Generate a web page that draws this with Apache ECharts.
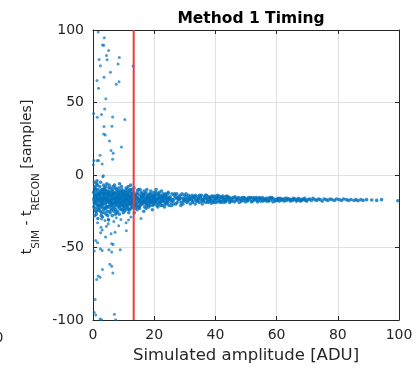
<!DOCTYPE html>
<html>
<head>
<meta charset="utf-8">
<script src="https://cdn.jsdelivr.net/npm/echarts@6/dist/echarts.min.js"></script>
<style>html,body{margin:0;padding:0;background:#fff}#c{width:416px;height:369px}</style>
</head>
<body>
<div id="c"></div>
<script>
const chartTitle = 'Method 1 Timing';
const xLabel = 'Simulated amplitude [ADU]';
const xTicks = [0, 20, 40, 60, 80, 100];
const yTicks = [-100, -50, 0, 50, 100];
const threshold = 13.3;

// sparse outliers (amplitude, time difference)
const outlierPoints = [
 [1.7,98.6],[3.7,94.7],[3.1,89.7],[3.5,89.4],[5.1,85.8],[2.0,79.7],[4.4,82.4],[4.6,79.4],[8.6,81],[2.4,75.3],
 [8.2,76.5],[13.1,75.1],[5.7,70.8],[3.6,67.4],[1.3,65.1],[8.5,64.3],[7.6,62.6],[1.8,59.9],[4.2,52.6],[0.2,42.4],
 [1.4,39.8],[2.8,41.8],[3.8,45.6],[6.4,40],[10.4,38.3],[3.6,33.5],[6.2,33.7],[3.5,28.2],[4.0,27.6],[5.4,23.4],
 [5.9,16.9],[6.6,15],[9.3,19.3],[6.4,10.9],[2.3,13.7],[0.3,10],[1.4,10],[1.8,10],[3.0,7.6],[0.1,7],
 [3.2,-1.2],[3.4,-0.5],
 [2.8,-30.3],[3.9,-31.4],[5.0,-30.3],[5.0,-33.7],[9.1,-30.7],[4.4,-35.3],[2.5,-39.9],[4.1,-42.8],[5.9,-40.6],[7.2,-39.4],
 [10.9,-38.5],[0.9,-45.1],[1.5,-46.8],[6.1,-47.4],[6.6,-47.9],[0.4,-52.4],[3.0,-52],[5.2,-51.5],[6.1,-53.1],[8.9,-51.5],
 [2.4,-50.8],[5.5,-61.6],[6.1,-63],[6.5,-67.5],[3.1,-65.2],[1.7,-69.6],[2.3,-70.5],[1.2,-72.1],[0.7,-85.8],[0.4,-94.9],
 [0.9,-96.6],[7.0,-96.1],[2.3,-99.3],[2.8,-99.9],[7.4,-99.9],[3.0,-38],[1.5,-33],[2.6,-36],[6.8,-32],[8.4,-35],
 [10.8,-33],[12.4,-29],[15.7,-30],[7.6,-29.5],[11.6,-31]
];

// dense cloud at low amplitude (x < 25)
const clusterPoints = [
 [0.2,-12],[0.4,-16],[0.5,-20],[0.6,-8],[0.7,-14],[0.8,-25],[0.9,-18],[0.3,-22],[0.5,-5],[0.8,-11],[0.6,-28],[0.9,-15],[0.4,-19],[0.7,-9],
 [1.1,-13],[1.3,-17],[1.5,-21],[1.2,-6],[1.6,-10],[1.8,-24],[1.4,-15],[1.9,-19],[1.1,-27],[1.7,-12],[1.3,-4],[1.5,-23],[1.8,-16],[1.2,-20],[1.6,-30],
 [2.1,-14],[2.3,-18],[2.5,-11],[2.7,-22],[2.9,-16],[2.2,-8],[2.4,-25],[2.6,-13],[2.8,-19],[2.0,-21],[2.5,-5],[2.7,-28],[2.3,-15],[2.9,-10],[2.1,-17],
 [3.1,-12],[3.3,-20],[3.5,-16],[3.7,-9],[3.9,-23],[3.2,-18],[3.4,-14],[3.6,-26],[3.8,-11],[3.0,-15],[3.5,-7],[3.7,-19],[3.3,-22],[3.9,-17],[3.1,-29],[3.6,-13],
 [4.1,-15],[4.3,-11],[4.5,-19],[4.7,-22],[4.9,-14],[4.2,-8],[4.4,-17],[4.6,-25],[4.8,-12],[4.0,-20],[4.5,-6],[4.3,-27],[4.7,-16],[4.9,-18],[4.1,-13],
 [5.1,-16],[5.3,-12],[5.5,-20],[5.7,-9],[5.9,-23],[5.2,-18],[5.4,-14],[5.6,-26],[5.8,-15],[5.0,-11],[5.5,-19],[5.3,-7],[5.7,-21],[5.9,-17],[5.1,-31],
 [6.1,-14],[6.3,-18],[6.5,-10],[6.7,-22],[6.9,-16],[6.2,-12],[6.4,-20],[6.6,-8],[6.8,-25],[6.0,-17],[6.5,-15],[6.3,-28],[6.7,-13],[6.9,-19],[6.1,-21],
 [7.1,-13],[7.3,-17],[7.5,-21],[7.7,-10],[7.9,-15],[7.2,-19],[7.4,-24],[7.6,-12],[7.8,-18],[7.0,-7],[7.5,-16],[7.3,-27],[7.7,-14],[7.9,-20],
 [8.1,-15],[8.3,-11],[8.5,-19],[8.7,-23],[8.9,-13],[8.2,-17],[8.4,-9],[8.6,-21],[8.8,-16],[8.0,-25],[8.5,-14],[8.3,-18],[8.7,-6],[8.9,-20],
 [9.1,-16],[9.3,-12],[9.5,-20],[9.7,-14],[9.9,-22],[9.2,-18],[9.4,-10],[9.6,-24],[9.8,-15],[9.0,-19],[9.5,-17],[9.3,-8],[9.7,-13],[9.9,-26],
 [10.1,-14],[10.3,-18],[10.5,-11],[10.7,-21],[10.9,-16],[10.2,-23],[10.4,-13],[10.6,-19],[10.8,-9],[10.0,-17],[10.5,-15],[10.3,-25],[10.7,-12],[10.9,-20],
 [11.1,-17],[11.3,-13],[11.5,-21],[11.7,-15],[11.9,-19],[11.2,-10],[11.4,-23],[11.6,-12],[11.8,-18],[11.0,-16],[11.5,-8],[11.3,-20],[11.7,-26],[11.9,-14],
 [12.1,-15],[12.3,-19],[12.5,-12],[12.7,-22],[12.9,-17],[12.2,-10],[12.4,-20],[12.6,-14],[12.8,-18],[12.0,-24],[12.5,-16],[12.3,-7],[12.7,-13],[12.9,-21],
 [13.1,-16],[13.3,-12],[13.5,-20],[13.7,-14],[13.9,-23],[13.2,-18],[13.4,-9],[13.6,-17],[13.8,-21],[13.0,-13],[13.5,-26],
 [14.1,-15],[14.3,-19],[14.5,-11],[14.7,-22],[14.9,-17],[14.2,-13],[14.4,-24],[14.6,-16],[14.8,-10],[14.0,-20],
 [15.1,-18],[15.3,-14],[15.5,-21],[15.7,-12],[15.9,-16],[15.2,-23],[15.4,-10],[15.6,-19],[15.8,-15],[15.0,-17],
 [16.1,-13],[16.3,-20],[16.5,-16],[16.7,-11],[16.9,-22],[16.2,-18],[16.4,-14],[16.6,-25],[16.8,-17],[16.0,-15],
 [17.1,-19],[17.3,-12],[17.5,-16],[17.7,-21],[17.9,-14],[17.2,-17],[17.4,-23],[17.6,-10],[17.8,-18],[17.0,-15],
 [18.1,-16],[18.3,-20],[18.5,-13],[18.7,-18],[18.9,-11],[18.2,-22],[18.4,-15],[18.6,-17],[18.8,-19],[18.0,-14],
 [19.1,-18],[19.3,-14],[19.5,-21],[19.7,-16],[19.9,-12],[19.2,-19],[19.4,-24],[19.6,-15],[19.8,-17],[19.0,-13],
 [20.1,-15],[20.3,-19],[20.5,-12],[20.7,-17],[20.9,-21],[20.2,-14],[20.4,-18],[20.6,-10],[20.8,-16],[20.0,-20],
 [21.1,-17],[21.3,-13],[21.5,-20],[21.7,-15],[21.9,-18],[21.2,-22],[21.4,-16],[21.6,-12],[21.8,-19],
 [22.1,-14],[22.3,-18],[22.5,-16],[22.7,-21],[22.9,-13],[22.2,-19],[22.4,-11],[22.6,-17],[22.8,-15],
 [23.1,-18],[23.3,-15],[23.5,-20],[23.7,-13],[23.9,-17],[23.2,-16],[23.4,-22],[23.6,-14],[23.8,-19],
 [24.1,-16],[24.3,-19],[24.5,-13],[24.7,-17],[24.9,-21],[24.2,-15],[24.4,-18],[24.6,-12],[24.8,-16],
 [0.5,-14.5],[1.0,-18.5],[1.5,-16.5],[2.0,-13.5],[2.5,-20.5],[3.0,-17.5],[3.5,-12.5],[4.0,-16.5],[4.5,-21.5],[5.0,-14.5],
 [5.5,-17.5],[6.0,-19.5],[6.5,-13.5],[7.0,-16.5],[7.5,-18.5],[8.0,-12.5],[8.5,-16.5],[9.0,-21.5],[9.5,-14.5],[10.0,-18.5],
 [10.5,-16.5],[11.0,-13.5],[11.5,-17.5],[12.0,-15.5],[12.5,-19.5],[13.0,-16.5],[13.5,-14.5],[14.0,-17.5],[14.5,-15.5],[15.0,-19.5],
 [15.5,-16.5],[16.0,-18.5],[16.5,-13.5],[17.0,-17.5],[17.5,-19.5],[18.0,-16.5],[18.5,-15.5],[19.0,-17.5],[19.5,-14.5],[20.0,-16.5],
 [0.3,-17],[0.6,-23],[0.9,-10],[1.0,-14],[1.2,-25],[1.4,-7],[1.7,-21],[1.9,-13],[2.2,-23],[2.4,-12],
 [2.6,-17],[2.8,-26],[3.0,-20],[3.2,-10],[3.4,-24],[3.8,-15],[4.0,-10],[4.2,-23],[4.4,-13],[4.6,-18],
 [4.8,-28],[5.0,-22],[5.2,-9],[5.4,-25],[5.6,-13],[5.8,-19],[6.0,-11],[6.2,-24],[6.4,-16],[6.6,-20],
 [6.8,-12],[7.0,-23],[7.2,-15],[7.4,-9],[7.6,-20],[7.8,-26],[8.0,-17],[8.2,-22],[8.4,-13],[8.6,-27],
 [8.8,-11],[9.0,-15],[9.2,-24],[9.4,-19],[9.6,-12],[9.8,-21],[10.0,-11],[10.2,-20],[10.4,-16],[10.6,-24],
 [10.8,-14],[11.0,-22],[11.2,-18],[11.4,-15],[11.6,-24],[11.8,-11],[12.0,-20],[12.2,-17],[12.4,-23],[12.6,-10],
 [12.8,-15],[13.0,-19],[13.4,-22],[13.8,-16],[14.2,-21],[14.6,-13],[15.0,-22],[15.4,-17],[15.8,-20],[16.2,-15],
 [16.6,-19],[17.0,-13],[17.4,-20],[17.8,-15],[18.2,-18],[18.6,-21],[19.0,-16],[19.4,-18],[19.8,-20],[20.2,-17],
 [20.6,-14],[21.0,-19],[21.4,-14],[21.8,-16],[22.2,-21],[22.6,-15],[23.0,-18],[23.4,-14],[23.8,-16],[24.2,-20],
 [24.6,-17]
];

// narrowing band at higher amplitude (x >= 25)
const bandPoints = [
 [25.2,-15],[25.5,-19],[25.8,-13],[25.4,-17],[25.7,-21],[25.1,-16],
 [26.2,-18],[26.5,-14],[26.8,-16],[26.4,-20],[26.7,-13],[26.1,-17],
 [27.2,-15],[27.5,-19],[27.8,-17],[27.4,-13],[27.7,-16],[27.1,-20],
 [28.2,-17],[28.5,-14],[28.8,-19],[28.4,-16],[28.7,-21],[28.1,-15],
 [29.2,-16],[29.5,-18],[29.8,-14],[29.4,-20],[29.7,-17],[29.1,-13],
 [30.2,-18],[30.5,-15],[30.8,-17],[30.4,-13],[30.7,-19],[30.1,-16],
 [31.2,-14],[31.5,-17],[31.8,-20],[31.4,-16],[31.7,-15],[31.1,-18],
 [32.2,-17],[32.5,-19],[32.8,-15],[32.4,-14],[32.7,-18],[32.1,-16],
 [33.2,-16],[33.5,-14],[33.8,-18],[33.4,-20],[33.7,-17],[33.1,-15],
 [34.2,-18],[34.5,-16],[34.8,-14],[34.4,-17],[34.7,-19],[34.1,-15],
 [35.2,-15],[35.5,-18],[35.8,-17],[35.4,-14],[35.7,-20],[35.1,-16],
 [36.2,-17],[36.5,-15],[36.8,-19],[36.4,-16],[36.7,-14],[36.1,-18],
 [37.2,-16],[37.5,-18],[37.8,-15],[37.4,-17],[37.7,-19],[37.1,-14],
 [38.2,-18],[38.5,-16],[38.8,-14.5],[38.4,-17],[38.7,-19.5],[38.1,-15.5],
 [39.2,-15],[39.5,-17.5],[39.8,-16],[39.4,-19],[39.7,-14.5],[39.1,-18],
 [40.2,-17],[40.5,-15],[40.8,-18.5],[40.4,-16],[40.7,-14],[40.1,-19],
 [41.2,-16],[41.5,-18],[41.8,-15],[41.4,-17.5],[41.7,-19],[41.1,-14.5],
 [42.2,-18],[42.5,-16],[42.8,-17],[42.4,-14.5],[42.7,-19],[42.1,-15.5],
 [43.2,-15],[43.5,-17.5],[43.8,-16],[43.4,-18.5],[43.7,-14.5],[43.1,-17],
 [44.2,-17],[44.5,-15.5],[44.8,-18],[44.4,-16],[44.7,-19],[44.1,-15],
 [45.2,-16],[45.5,-18],[45.8,-15.5],[45.4,-17],
 [46.2,-18.5],[46.5,-16],[46.8,-17.5],[46.4,-15],
 [47.2,-17],[47.5,-15.5],[47.8,-19],[47.4,-16.5],
 [48.2,-16],[48.5,-18],[48.8,-15.5],[48.4,-17.5],
 [49.2,-17.5],[49.5,-16],[49.8,-18.5],[49.4,-15.5],
 [50.2,-16.5],[50.5,-18],[50.8,-15.5],[50.4,-17],
 [51.2,-17],[51.5,-15.5],[51.8,-18.5],[51.4,-16],
 [52.2,-18],[52.5,-16.5],[52.8,-17],[52.4,-15.5],
 [53.2,-16],[53.5,-17.5],[53.8,-18.5],[53.4,-15.5],
 [54.2,-17],[54.5,-16],[54.8,-18],[54.4,-15.5],
 [55.2,-16.5],[55.5,-18],[55.8,-17],[55.4,-15.5],
 [56.2,-17.5],[56.5,-16],[56.8,-18],[56.4,-16.5],
 [57.2,-16],[57.5,-17.5],[57.8,-15.5],[57.4,-18],
 [58.2,-17],[58.5,-16],[58.8,-18.5],[58.4,-15.5],
 [59.2,-16.5],[59.5,-18],[59.8,-17],
 [60.2,-17.5],[60.5,-16],[60.8,-18],[60.4,-16.5],
 [61.2,-16],[61.5,-17.5],[61.8,-16.5],
 [62.2,-17],[62.5,-18],[62.8,-16],
 [63.2,-17.5],[63.5,-16],[63.8,-17],
 [64.2,-16.5],[64.5,-18],[64.8,-17],
 [65.2,-17.5],[65.5,-16],[65.8,-17],
 [66.2,-16.5],[66.5,-18],[66.8,-17.5],
 [67.2,-16],[67.5,-17],[67.8,-18],
 [68.2,-17.5],[68.5,-16.5],[68.8,-17],
 [69.2,-16],[69.5,-17.5],[69.8,-18],
 [70.3,-17],[70.8,-16.5],[71.4,-17.5],[71.9,-16],[72.5,-17],[73.1,-17.5],[73.7,-16.5],[74.2,-17],[74.9,-18],[75.5,-16.5],
 [76.2,-17],[76.8,-17.5],[77.5,-16.5],[78.1,-17],[78.9,-17.5],[79.6,-16.5],[80.4,-17],[81.2,-17.5],[81.9,-16.5],[82.8,-17],
 [83.5,-17.5],[84.3,-17],[85.3,-17.5],[86.0,-17],[86.6,-17.8],[87.5,-17],[88.3,-17.5],[89.4,-17],[91.1,-17.2],[92.7,-17.5],
 [94.3,-17],[99.6,-17.8]
];

const chart = echarts.init(document.getElementById('c'), null, {renderer: 'canvas'});
const FONT = 'DejaVu Sans';
const axisDark = '#262626';
const gridCol = '#e1e1e1';

function boxAxis(extra) {
  return Object.assign({
    type: 'value',
    axisLine: {show: true, onZero: false, lineStyle: {color: axisDark, width: 1}},
    axisTick: {show: true, inside: true, length: 4, lineStyle: {color: axisDark}},
    axisLabel: {show: false}, splitLine: {show: false}
  }, extra);
}

chart.setOption({
  animation: false,
  backgroundColor: '#ffffff',
  title: {
    text: chartTitle,
    left: 246, top: 6, textAlign: 'center',
    textStyle: {fontFamily: FONT, fontSize: 15.5, fontWeight: 'bold', color: '#000'}
  },
  grid: {left: 93, right: 17, top: 30, bottom: 47, containLabel: false},
  xAxis: [
    boxAxis({
      position: 'bottom', min: xTicks[0], max: xTicks[xTicks.length - 1], interval: xTicks[1] - xTicks[0],
      name: xLabel, nameLocation: 'middle', nameGap: 27,
      nameTextStyle: {fontFamily: FONT, fontSize: 16.5, color: axisDark},
      axisLabel: {show: true, fontFamily: FONT, fontSize: 14, color: axisDark, margin: 8},
      splitLine: {show: true, lineStyle: {color: gridCol, width: 1}}
    }),
    boxAxis({position: 'top', min: xTicks[0], max: xTicks[xTicks.length - 1], interval: xTicks[1] - xTicks[0]})
  ],
  yAxis: [
    boxAxis({
      position: 'left', min: yTicks[0], max: yTicks[yTicks.length - 1], interval: yTicks[1] - yTicks[0],
      axisLabel: {show: true, fontFamily: FONT, fontSize: 14, color: axisDark, margin: 9},
      splitLine: {show: true, lineStyle: {color: gridCol, width: 1}}
    }),
    boxAxis({position: 'right', min: yTicks[0], max: yTicks[yTicks.length - 1], interval: yTicks[1] - yTicks[0]})
  ],
  graphic: [{
    type: 'text', x: 27, y: 177, rotation: Math.PI / 2,
    style: {
      text: '{n|t}{s|SIM}{n| - t}{s|RECON}{n| [samples]}',
      textAlign: 'center', textVerticalAlign: 'middle',
      fill: axisDark, fontFamily: FONT,
      rich: {
        n: {fontFamily: FONT, fontSize: 14, lineHeight: 30, fill: axisDark},
        s: {fontFamily: FONT, fontSize: 10.5, lineHeight: 12, verticalAlign: 'bottom', fill: axisDark}
      }
    }
  }, {
    type: 'text', x: -5.5, y: 338.5,
    style: {text: '0', fontFamily: FONT, fontSize: 14, fill: axisDark, textAlign: 'left', textVerticalAlign: 'middle'}
  }],
  series: [{
    type: 'scatter',
    data: outlierPoints,
    symbol: 'circle',
    symbolSize: 3,
    itemStyle: {color: '#0072BD', opacity: 0.7},
    silent: true,
    z: 2
  }, {
    type: 'scatter',
    data: clusterPoints.concat(bandPoints),
    symbol: 'circle',
    symbolSize: 3.6,
    itemStyle: {color: '#0072BD', opacity: 0.8},
    silent: true,
    z: 2
  }, {
    type: 'line',
    data: [[threshold, yTicks[0]], [threshold, yTicks[yTicks.length - 1]]],
    symbol: 'none',
    lineStyle: {color: '#F03A3A', width: 2},
    silent: true,
    z: 5
  }]
});
</script>
</body>
</html>
